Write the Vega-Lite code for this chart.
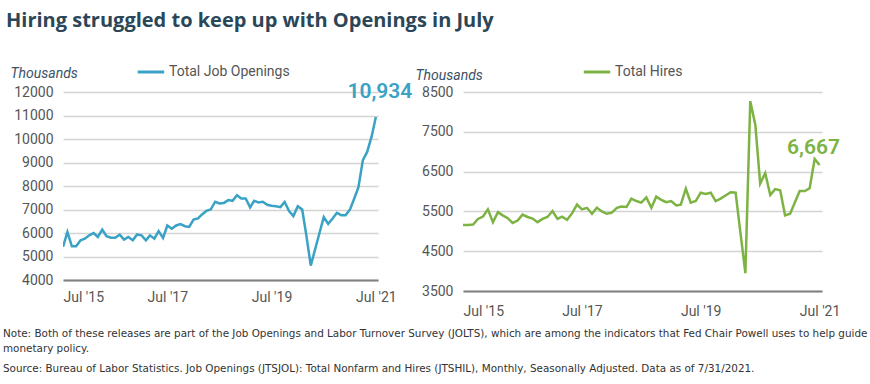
{
  "$schema": "https://vega.github.io/schema/vega-lite/v6.json",
  "background": "white",
  "padding": {"left": 3, "top": 11, "right": 5, "bottom": 4},
  "config": {
    "view": {"stroke": null},
    "font": "Roboto",
    "axis": {"labelFont": "Roboto", "labelColor": "#555555", "labelFontSize": 14, "ticks": false, "gridColor": "#d4d4d4", "gridWidth": 1.5, "domain": false, "labelOverlap": false},
    "legend": {"labelFont": "Roboto", "labelFontSize": 14, "labelColor": "#555555"}
  },
  "title": {"text": "Hiring struggled to keep up with Openings in July", "anchor": "start", "font": "Open Sans", "fontSize": 20, "fontWeight": 700, "color": "#2b4657", "offset": 26, "dx": 3},
  "resolve": {"scale": {"color": "independent"}, "legend": {"color": "independent"}},
  "datasets": {
    "jolts": [
      {"date": "2015-07-01", "openings": 5410, "hires": 5160},
      {"date": "2015-08-01", "openings": 6040, "hires": 5160},
      {"date": "2015-09-01", "openings": 5440, "hires": 5170},
      {"date": "2015-10-01", "openings": 5440, "hires": 5310},
      {"date": "2015-11-01", "openings": 5690, "hires": 5370},
      {"date": "2015-12-01", "openings": 5760, "hires": 5550},
      {"date": "2016-01-01", "openings": 5900, "hires": 5230},
      {"date": "2016-02-01", "openings": 6000, "hires": 5480},
      {"date": "2016-03-01", "openings": 5830, "hires": 5400},
      {"date": "2016-04-01", "openings": 6140, "hires": 5330},
      {"date": "2016-05-01", "openings": 5860, "hires": 5210},
      {"date": "2016-06-01", "openings": 5800, "hires": 5270},
      {"date": "2016-07-01", "openings": 5800, "hires": 5420},
      {"date": "2016-08-01", "openings": 5930, "hires": 5360},
      {"date": "2016-09-01", "openings": 5720, "hires": 5320},
      {"date": "2016-10-01", "openings": 5830, "hires": 5230},
      {"date": "2016-11-01", "openings": 5690, "hires": 5310},
      {"date": "2016-12-01", "openings": 5940, "hires": 5360},
      {"date": "2017-01-01", "openings": 5900, "hires": 5510},
      {"date": "2017-02-01", "openings": 5690, "hires": 5310},
      {"date": "2017-03-01", "openings": 5900, "hires": 5370},
      {"date": "2017-04-01", "openings": 5760, "hires": 5290},
      {"date": "2017-05-01", "openings": 6080, "hires": 5450},
      {"date": "2017-06-01", "openings": 5790, "hires": 5670},
      {"date": "2017-07-01", "openings": 6320, "hires": 5550},
      {"date": "2017-08-01", "openings": 6180, "hires": 5590},
      {"date": "2017-09-01", "openings": 6320, "hires": 5440},
      {"date": "2017-10-01", "openings": 6380, "hires": 5590},
      {"date": "2017-11-01", "openings": 6290, "hires": 5500},
      {"date": "2017-12-01", "openings": 6260, "hires": 5440},
      {"date": "2018-01-01", "openings": 6570, "hires": 5470},
      {"date": "2018-02-01", "openings": 6620, "hires": 5590},
      {"date": "2018-03-01", "openings": 6790, "hires": 5620},
      {"date": "2018-04-01", "openings": 6940, "hires": 5610},
      {"date": "2018-05-01", "openings": 7000, "hires": 5820},
      {"date": "2018-06-01", "openings": 7330, "hires": 5760},
      {"date": "2018-07-01", "openings": 7260, "hires": 5720},
      {"date": "2018-08-01", "openings": 7280, "hires": 5850},
      {"date": "2018-09-01", "openings": 7400, "hires": 5590},
      {"date": "2018-10-01", "openings": 7370, "hires": 5870},
      {"date": "2018-11-01", "openings": 7610, "hires": 5790},
      {"date": "2018-12-01", "openings": 7470, "hires": 5730},
      {"date": "2019-01-01", "openings": 7470, "hires": 5760},
      {"date": "2019-02-01", "openings": 7090, "hires": 5650},
      {"date": "2019-03-01", "openings": 7370, "hires": 5670},
      {"date": "2019-04-01", "openings": 7300, "hires": 6070},
      {"date": "2019-05-01", "openings": 7330, "hires": 5720},
      {"date": "2019-06-01", "openings": 7200, "hires": 5760},
      {"date": "2019-07-01", "openings": 7160, "hires": 5970},
      {"date": "2019-08-01", "openings": 7140, "hires": 5940},
      {"date": "2019-09-01", "openings": 7100, "hires": 5970},
      {"date": "2019-10-01", "openings": 7320, "hires": 5760},
      {"date": "2019-11-01", "openings": 6930, "hires": 5820},
      {"date": "2019-12-01", "openings": 6720, "hires": 5900},
      {"date": "2020-01-01", "openings": 7140, "hires": 5980},
      {"date": "2020-02-01", "openings": 7000, "hires": 5970},
      {"date": "2020-03-01", "openings": 5900, "hires": 4980},
      {"date": "2020-04-01", "openings": 4610, "hires": 3950},
      {"date": "2020-05-01", "openings": 5300, "hires": 8270},
      {"date": "2020-06-01", "openings": 6000, "hires": 7680},
      {"date": "2020-07-01", "openings": 6680, "hires": 6200},
      {"date": "2020-08-01", "openings": 6390, "hires": 6460},
      {"date": "2020-09-01", "openings": 6620, "hires": 5910},
      {"date": "2020-10-01", "openings": 6860, "hires": 6060},
      {"date": "2020-11-01", "openings": 6760, "hires": 6030},
      {"date": "2020-12-01", "openings": 6760, "hires": 5400},
      {"date": "2021-01-01", "openings": 7000, "hires": 5440},
      {"date": "2021-02-01", "openings": 7490, "hires": 5740},
      {"date": "2021-03-01", "openings": 7950, "hires": 6010},
      {"date": "2021-04-01", "openings": 9100, "hires": 6010},
      {"date": "2021-05-01", "openings": 9450, "hires": 6080},
      {"date": "2021-06-01", "openings": 10100, "hires": 6820},
      {"date": "2021-07-01", "openings": 10934, "hires": 6667}
    ]
  },
  "vconcat": [
    {
      "title": {
        "text": ["Note: Both of these releases are part of the Job Openings and Labor Turnover Survey (JOLTS), which are among the indicators that Fed Chair Powell uses to help guide", "monetary policy."],
        "subtitle": "Source: Bureau of Labor Statistics.  Job Openings (JTSJOL): Total Nonfarm and Hires (JTSHIL), Monthly, Seasonally Adjusted. Data as of 7/31/2021.",
        "orient": "bottom",
        "anchor": "start",
        "font": "DejaVu Sans",
        "fontSize": 10.4,
        "fontWeight": 400,
        "color": "#333333",
        "lineHeight": 15,
        "subtitleFont": "DejaVu Sans",
        "subtitleFontSize": 10.4,
        "subtitleColor": "#333333",
        "subtitlePadding": 10,
        "offset": 11,
        "dx": -7
      },
      "bounds": "flush",
      "spacing": 85,
      "resolve": {"scale": {"color": "independent"}, "legend": {"color": "independent"}},
      "hconcat": [
        {
          "width": 315,
          "height": 188,
          "data": {"name": "jolts"},
          "layer": [
            {
              "mark": {"type": "line", "strokeWidth": 2.5, "clip": true},
              "encoding": {
                "x": {"field": "date", "type": "temporal", "scale": {"domain": [{"year": 2015, "month": 7, "date": 1}, {"year": 2021, "month": 7, "date": 16}]},
                  "axis": {"title": null, "values": [{"year": 2015, "month": 7, "date": 1}, {"year": 2017, "month": 7, "date": 1}, {"year": 2019, "month": 7, "date": 1}, {"year": 2021, "month": 7, "date": 1}], "tickCount": 10, "format": "%b '%y", "grid": false, "domain": true, "domainColor": "#7f7f7f", "domainWidth": 2, "labelPadding": 10}},
                "y": {"field": "openings", "type": "quantitative", "scale": {"domain": [4000, 12000], "nice": false},
                  "axis": {"title": "Thousands", "titleAngle": 0, "titleX": -53, "titleY": -19, "titleAlign": "left", "titleBaseline": "middle", "titleFontStyle": "italic", "titleFontWeight": 400, "titleFontSize": 14, "titleColor": "#3a5166", "titleFont": "Roboto", "values": [4000, 5000, 6000, 7000, 8000, 9000, 10000, 11000, 12000], "tickCount": 20, "format": "d", "labelPadding": 10, "labelOverlap": false, "grid": true}},
                "color": {"datum": "Total Job Openings", "type": "nominal", "scale": {"range": ["#3aa2c4"]},
                  "legend": {"title": null, "orient": "none", "legendX": 73, "legendY": -35, "symbolType": "stroke", "symbolSize": 700, "symbolStrokeWidth": 3, "labelOffset": 3}}
              }
            },
            {
              "transform": [{"filter": {"field": "openings", "equal": 10934}}],
              "mark": {"type": "text", "fontSize": 21, "fontWeight": 600, "font": "Roboto", "color": "#3aa2c4", "dy": -25, "dx": 4},
              "encoding": {
                "x": {"field": "date", "type": "temporal"},
                "y": {"field": "openings", "type": "quantitative"},
                "text": {"field": "openings", "type": "quantitative", "format": ",.0f"}
              }
            }
          ]
        },
        {
          "width": 359,
          "height": 199,
          "data": {"name": "jolts"},
          "layer": [
            {
              "mark": {"type": "line", "strokeWidth": 2.5, "clip": true},
              "encoding": {
                "x": {"field": "date", "type": "temporal", "scale": {"domain": [{"year": 2015, "month": 7, "date": 1}, {"year": 2021, "month": 7, "date": 16}]},
                  "axis": {"title": null, "values": [{"year": 2015, "month": 7, "date": 1}, {"year": 2017, "month": 7, "date": 1}, {"year": 2019, "month": 7, "date": 1}, {"year": 2021, "month": 7, "date": 1}], "tickCount": 10, "format": "%b '%y", "grid": false, "domain": true, "domainColor": "#7f7f7f", "domainWidth": 2, "labelPadding": 13}},
                "y": {"field": "hires", "type": "quantitative", "scale": {"domain": [3500, 8500], "nice": false},
                  "axis": {"title": "Thousands", "titleAngle": 0, "titleX": -48, "titleY": -17, "titleAlign": "left", "titleBaseline": "middle", "titleFontStyle": "italic", "titleFontWeight": 400, "titleFontSize": 14, "titleColor": "#3a5166", "titleFont": "Roboto", "values": [3500, 4500, 5500, 6500, 7500, 8500], "tickCount": 20, "format": "d", "labelPadding": 10, "labelOverlap": false, "grid": true}},
                "color": {"datum": "Total Hires", "type": "nominal", "scale": {"range": ["#7db343"]},
                  "legend": {"title": null, "orient": "none", "legendX": 119, "legendY": -35, "symbolType": "stroke", "symbolSize": 700, "symbolStrokeWidth": 3, "labelOffset": 3}}
              }
            },
            {
              "transform": [{"filter": {"field": "hires", "equal": 6667}}],
              "mark": {"type": "text", "fontSize": 21, "fontWeight": 600, "font": "Roboto", "color": "#7db343", "dy": -17, "dx": -6},
              "encoding": {
                "x": {"field": "date", "type": "temporal"},
                "y": {"field": "hires", "type": "quantitative"},
                "text": {"field": "hires", "type": "quantitative", "format": ",.0f"}
              }
            }
          ]
        }
      ]
    }
  ]
}
